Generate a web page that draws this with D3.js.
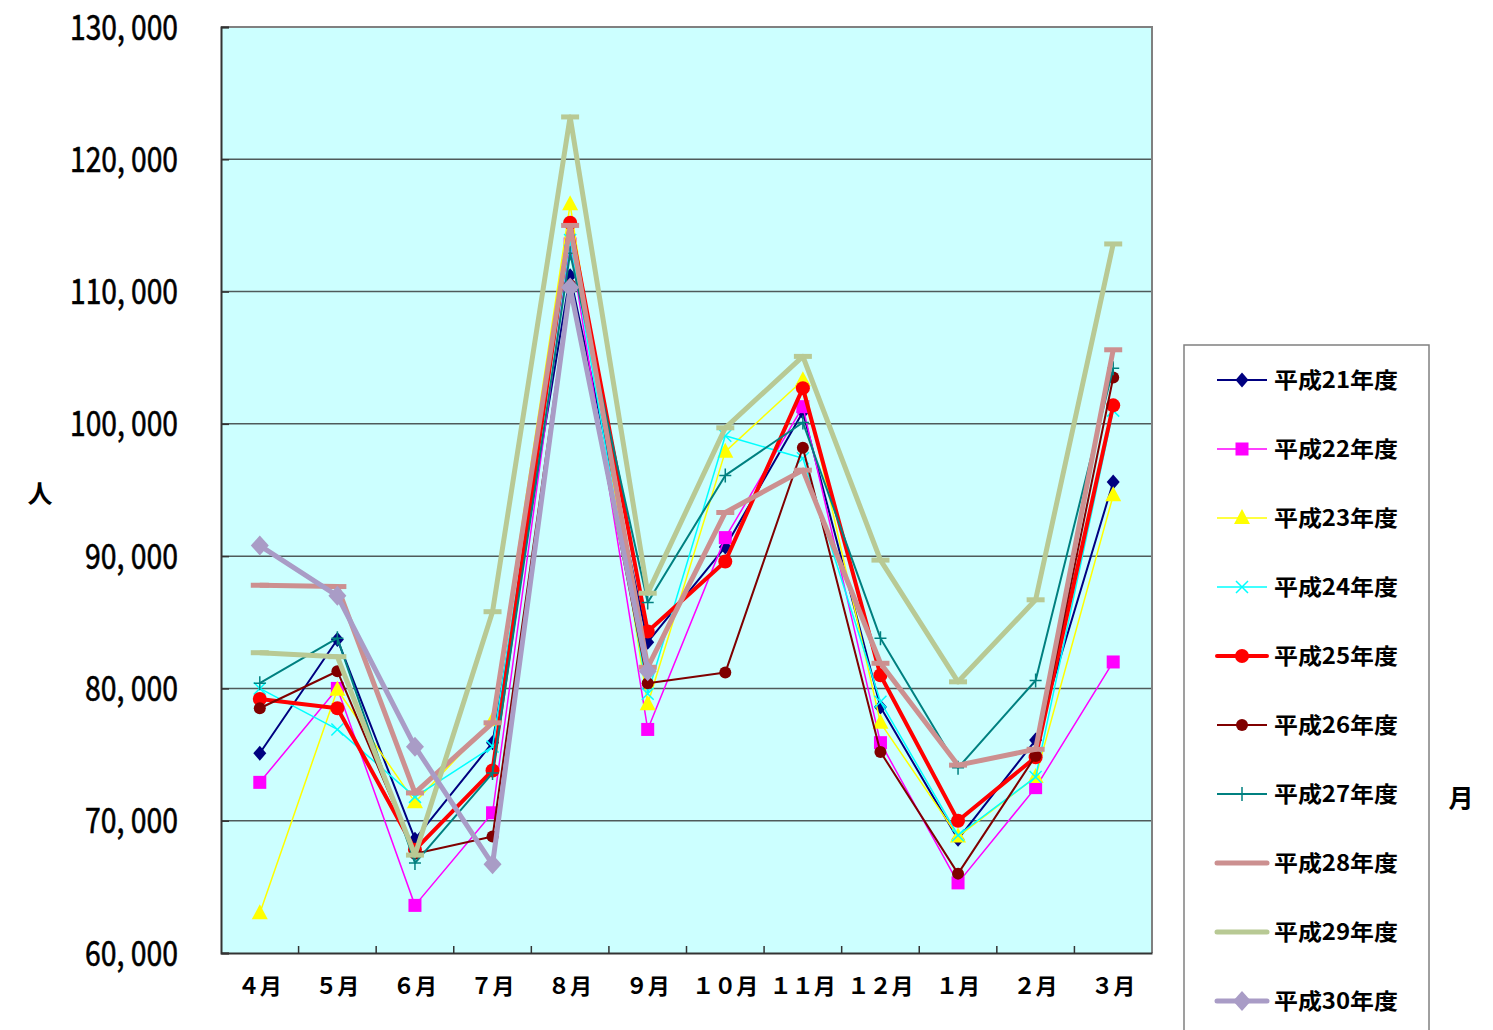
<!DOCTYPE html>
<html>
<head>
<meta charset="utf-8">
<script src="https://cdn.jsdelivr.net/npm/d3@7"></script>
<style>
  body { margin: 0; background: #fff; }
  svg { display: block; }
  text { font-family: "Noto Sans CJK JP", "DejaVu Sans", sans-serif; fill: #000; }
</style>
</head>
<body>
<script>
// months of the fiscal year (full-width digits as in the original)
const months = ['４月', '５月', '６月', '７月', '８月', '９月', '１０月', '１１月', '１２月', '１月', '２月', '３月']
const yTicks = [60000, 70000, 80000, 90000, 100000, 110000, 120000, 130000]

const seriesNames = ['平成21年度', '平成22年度', '平成23年度', '平成24年度', '平成25年度',
                     '平成26年度', '平成27年度', '平成28年度', '平成29年度', '平成30年度']

const h21 = [75100, 83700, 68600, 75900, 111200, 83500, 90700, 100900, 78600, 68600, 76100, 95600]
const h22 = [72900, 80000, 63600, 70600, 113600, 76900, 91400, 101300, 75900, 65300, 72500, 82000]
const h23 = [63000, 79900, 71400, 77600, 116600, 78800, 97900, 103300, 77400, 68800, 73300, 94600]
const h24 = [80000, 76900, 71800, 75600, 113900, 79600, 99100, 97400, 79000, 68900, 73300, 101000]
const h25 = [79200, 78500, 67800, 73800, 115200, 84300, 89600, 102700, 81000, 70000, 74800, 101400]
const h26 = [78500, 81300, 67500, 68800, 110500, 80400, 81200, 98200, 75200, 66000, 74900, 103500]
const h27 = [80400, 83800, 66800, 73600, 112900, 86500, 96100, 100100, 83800, 74000, 80600, 104200]
const h28 = [87800, 87700, 72100, 77400, 115000, 81600, 93300, 96500, 81900, 74200, 75400, 105600]
const h29 = [82700, 82400, 67400, 85800, 123200, 87200, 99700, 105100, 89700, 80500, 86700, 113600]
const h30 = [90800, 87000, 75600, 66700, 110300, 81300, null, null, null, null, null, null]

const allValues = [h21, h22, h23, h24, h25, h26, h27, h28, h29, h30]

// look of each series: colour, line width, marker
const styles = [
  { color: '#000080', width: 2,   marker: 'diamond' },
  { color: '#ff00ff', width: 1.5, marker: 'square' },
  { color: '#ffff00', width: 1.5, marker: 'triangle' },
  { color: '#00ffff', width: 1.5, marker: 'x' },
  { color: '#ff0000', width: 4,   marker: 'circle' },
  { color: '#800000', width: 2,   marker: 'smallcircle' },
  { color: '#008080', width: 2,   marker: 'plus' },
  { color: '#cc9090', width: 5,   marker: 'dash' },
  { color: '#b8c994', width: 5,   marker: 'dash' },
  { color: '#a99cc6', width: 5,   marker: 'bigdiamond' },
]

var config = {
  width: 1493,
  height: 1030,
  left: 221,
  right: 1152,
  top: 27,
  bottom: 953,
}

const svg = d3.select('body').append('svg')
  .attr('width', config.width)
  .attr('height', config.height)

const x = d3.scaleBand().domain(months).range([config.left, config.right])
const y = d3.scaleLinear().domain([60000, 130000]).range([config.bottom, config.top])
const cx = m => x(m) + x.bandwidth() / 2

// plot background
svg.append('rect')
  .attr('x', config.left).attr('y', config.top)
  .attr('width', config.right - config.left).attr('height', config.bottom - config.top)
  .attr('fill', '#ccffff')

// gridlines
svg.append('g').selectAll('line')
  .data(yTicks.filter(d => d > 60000 && d < 130000))
  .join('line')
  .attr('x1', config.left).attr('x2', config.right)
  .attr('y1', d => y(d)).attr('y2', d => y(d))
  .attr('stroke', '#4f5a5a').attr('stroke-width', 1.5)

// top / right border
svg.append('path')
  .attr('d', `M${config.left},${config.top}H${config.right}V${config.bottom}`)
  .attr('fill', 'none').attr('stroke', '#808080').attr('stroke-width', 2)

// y axis
const yAxis = svg.append('g')
  .attr('transform', `translate(${config.left},0)`)
  .call(d3.axisLeft(y).tickValues(yTicks).tickSize(-8).tickFormat(''))
yAxis.select('.domain').attr('stroke', '#333').attr('stroke-width', 2)
yAxis.selectAll('.tick line').attr('stroke', '#333').attr('stroke-width', 1.5)

svg.append('g').selectAll('text')
  .data(yTicks)
  .join('text')
  .attr('x', 178)
  .attr('y', d => y(d))
  .attr('dy', '0.36em')
  .attr('text-anchor', 'end')
  .attr('font-family', '"DejaVu Sans Condensed", "DejaVu Sans", sans-serif')
  .attr('font-size', 35)
  .attr('textLength', d => d >= 100000 ? 108 : 93)
  .attr('lengthAdjust', 'spacingAndGlyphs')
  .style('stroke', '#000').style('stroke-width', 0.6)
  .text(d => d3.format(',')(d).replace(',', ', '))

// x axis
const xAxis = svg.append('g')
  .attr('transform', `translate(0,${config.bottom})`)
  .call(d3.axisBottom(x).tickSize(0).tickFormat(''))
xAxis.select('.domain').attr('stroke', '#333').attr('stroke-width', 2)

svg.append('g').selectAll('line')
  .data(months.slice(1))
  .join('line')
  .attr('x1', d => x(d)).attr('x2', d => x(d))
  .attr('y1', config.bottom).attr('y2', config.bottom - 7)
  .attr('stroke', '#333').attr('stroke-width', 1.5)

svg.append('g').selectAll('text')
  .data(months)
  .join('text')
  .attr('x', d => cx(d))
  .attr('y', 994)
  .attr('text-anchor', 'middle')
  .attr('font-size', 22)
  .attr('font-weight', 'bold')
  .text(d => d)

// axis titles
svg.append('text').attr('x', 40).attr('y', 503).attr('text-anchor', 'middle')
  .attr('font-size', 25).attr('font-weight', 'bold').text('人')
svg.append('text').attr('x', 1461).attr('y', 807).attr('text-anchor', 'middle')
  .attr('font-size', 25).attr('font-weight', 'bold').text('月')

// marker drawing
function drawMarker(g, type, color, px, py) {
  if (type === 'diamond') {
    g.append('path').attr('d', `M${px},${py - 7.5}L${px + 6.5},${py}L${px},${py + 7.5}L${px - 6.5},${py}Z`).attr('fill', color)
  } else if (type === 'bigdiamond') {
    g.append('path').attr('d', `M${px},${py - 10}L${px + 9},${py}L${px},${py + 10}L${px - 9},${py}Z`).attr('fill', color)
  } else if (type === 'square') {
    g.append('rect').attr('x', px - 6.5).attr('y', py - 6.5).attr('width', 13).attr('height', 13).attr('fill', color)
  } else if (type === 'triangle') {
    g.append('path').attr('d', `M${px},${py - 9}L${px + 8},${py + 6}L${px - 8},${py + 6}Z`).attr('fill', color)
  } else if (type === 'x') {
    g.append('path').attr('d', `M${px - 6},${py - 6}L${px + 6},${py + 6}M${px + 6},${py - 6}L${px - 6},${py + 6}`)
      .attr('stroke', color).attr('stroke-width', 1.5)
  } else if (type === 'plus') {
    g.append('path').attr('d', `M${px - 6},${py}H${px + 6}M${px},${py - 7}V${py + 7}`)
      .attr('stroke', color).attr('stroke-width', 1.5)
  } else if (type === 'circle') {
    g.append('circle').attr('cx', px).attr('cy', py).attr('r', 7).attr('fill', color)
  } else if (type === 'smallcircle') {
    g.append('circle').attr('cx', px).attr('cy', py).attr('r', 6).attr('fill', color)
  } else if (type === 'dash') {
    g.append('path').attr('d', `M${px - 9},${py}H${px + 9}`)
      .attr('stroke', color).attr('stroke-width', 5)
  }
}

const line = d3.line()
  .defined(d => d.v !== null)
  .x(d => cx(d.m))
  .y(d => y(d.v))

const plot = svg.append('g')
allValues.forEach((vals, i) => {
  const st = styles[i]
  const pts = vals.map((v, j) => ({ m: months[j], v: v }))
  const g = plot.append('g')
  g.append('path')
    .datum(pts)
    .attr('d', line)
    .attr('fill', 'none')
    .attr('stroke', st.color)
    .attr('stroke-width', st.width)
    .attr('stroke-linejoin', 'round')
  pts.filter(d => d.v !== null).forEach(d => drawMarker(g, st.marker, st.color, cx(d.m), y(d.v)))
})

// legend
const legend = svg.append('g')
legend.append('rect')
  .attr('x', 1184).attr('y', 345).attr('width', 245).attr('height', 720)
  .attr('fill', '#fff').attr('stroke', '#808080').attr('stroke-width', 1.5)

seriesNames.forEach((name, i) => {
  const st = styles[i]
  const ly = 380 + i * 69
  const g = legend.append('g')
  g.append('line')
    .attr('x1', 1217).attr('x2', 1267).attr('y1', ly).attr('y2', ly)
    .attr('stroke', st.color).attr('stroke-width', st.width)
    .attr('stroke-linecap', st.width >= 4 ? 'round' : 'butt')
  if (st.marker !== 'dash') drawMarker(g, st.marker, st.color, 1242, ly)
  g.append('text')
    .attr('x', 1274).attr('y', ly).attr('dy', '0.36em')
    .attr('font-size', 22).attr('font-weight', 'bold')
    .attr('textLength', 124).attr('lengthAdjust', 'spacingAndGlyphs')
    .text(name)
})
</script>
</body>
</html>
